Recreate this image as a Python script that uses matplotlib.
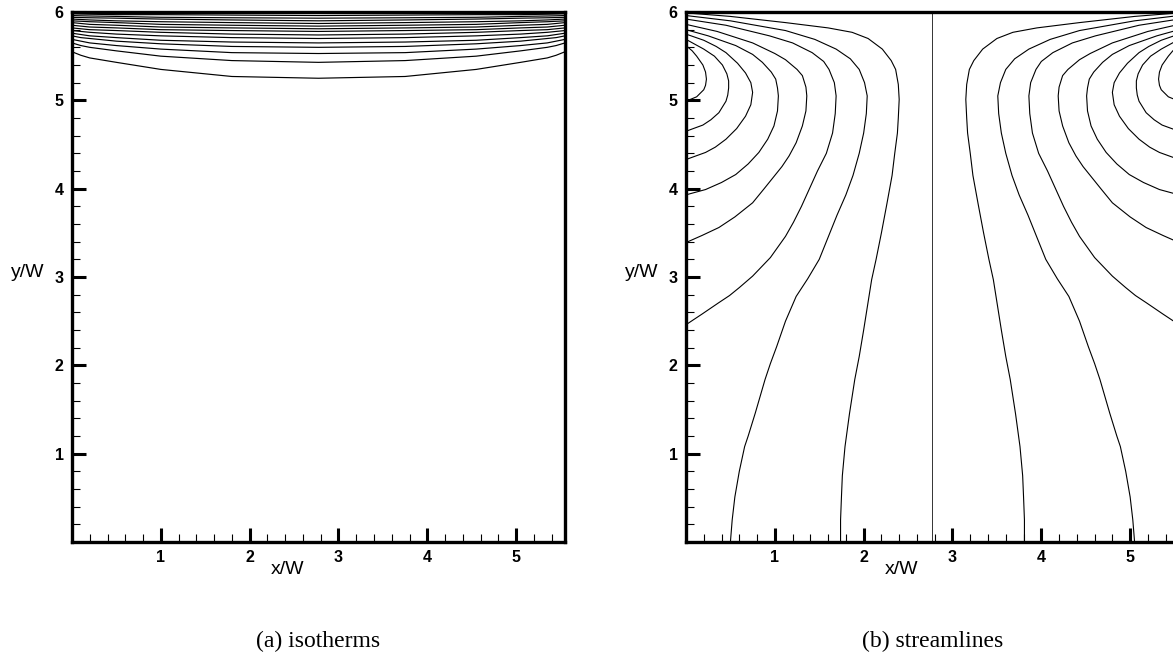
import numpy as np
import matplotlib
matplotlib.use("Agg")
import matplotlib.pyplot as plt
from matplotlib.ticker import MultipleLocator

# cavity size in units of W
XMAX = 5.55
YMAX = 6.0

# isotherms: y/W of each line at these x/W positions (left half, mirrored)
iso_x = [0.0, 0.1, 0.2, 0.5, 1.0, 1.8, 2.775]
iso_levels = [
    [5.55, 5.51, 5.48, 5.43, 5.35, 5.27, 5.25],
    [5.65, 5.62, 5.60, 5.56, 5.50, 5.45, 5.43],
    [5.69, 5.67, 5.65, 5.62, 5.58, 5.54, 5.53],
    [5.73, 5.71, 5.70, 5.67, 5.64, 5.61, 5.60],
    [5.76, 5.745, 5.73, 5.71, 5.68, 5.66, 5.65],
    [5.79, 5.78, 5.77, 5.75, 5.73, 5.71, 5.70],
    [5.82, 5.81, 5.80, 5.79, 5.77, 5.75, 5.74],
    [5.85, 5.84, 5.83, 5.82, 5.80, 5.79, 5.78],
    [5.88, 5.87, 5.86, 5.85, 5.83, 5.82, 5.81],
    [5.90, 5.895, 5.89, 5.88, 5.86, 5.85, 5.84],
    [5.92, 5.915, 5.91, 5.90, 5.89, 5.88, 5.87],
    [5.94, 5.937, 5.935, 5.93, 5.92, 5.91, 5.90],
    [5.96, 5.957, 5.955, 5.95, 5.94, 5.935, 5.93],
    [5.98, 5.977, 5.975, 5.97, 5.97, 5.965, 5.96],
]

# streamlines in the left half of the cavity, (x/W, y/W); right half is the mirror
stream_1 = [(0, 5.62), (0.07, 5.56), (0.12, 5.50), (0.19, 5.40), (0.22, 5.32),
            (0.23, 5.24), (0.22, 5.17), (0.20, 5.12), (0.12, 5.04), (0, 4.99)]
stream_2 = [(0, 5.69), (0.2, 5.58), (0.32, 5.50), (0.41, 5.40), (0.46, 5.30),
            (0.48, 5.22), (0.48, 5.14), (0.47, 5.06), (0.45, 4.99), (0.37, 4.86),
            (0.28, 4.78), (0.19, 4.72), (0, 4.65)]
stream_3 = [(0, 5.75), (0.2, 5.68), (0.34, 5.61), (0.45, 5.54), (0.58, 5.42),
            (0.67, 5.31), (0.73, 5.20), (0.75, 5.09), (0.73, 4.95), (0.67, 4.82),
            (0.57, 4.68), (0.45, 4.56), (0.33, 4.47), (0.22, 4.41), (0, 4.33)]
stream_4 = [(0, 5.80), (0.25, 5.73), (0.56, 5.62), (0.75, 5.52), (0.86, 5.43),
            (0.96, 5.32), (1.01, 5.24), (1.03, 5.14), (1.04, 5.05), (1.03, 4.88),
            (0.99, 4.71), (0.92, 4.56), (0.82, 4.41), (0.70, 4.28), (0.56, 4.16),
            (0.40, 4.07), (0.22, 3.99), (0, 3.93)]
stream_5 = [(0, 5.86), (0.35, 5.78), (0.75, 5.65), (1.0, 5.53), (1.12, 5.46),
            (1.25, 5.35), (1.31, 5.28), (1.35, 5.15), (1.36, 5.05), (1.35, 4.88),
            (1.31, 4.71), (1.24, 4.52), (1.16, 4.37), (1.08, 4.25), (1.0, 4.15),
            (0.88, 4.00), (0.75, 3.84), (0.55, 3.68), (0.37, 3.56), (0.18, 3.47),
            (0, 3.39)]
stream_6 = [(0, 5.92), (0.45, 5.85), (0.94, 5.73), (1.2, 5.65), (1.42, 5.54),
            (1.55, 5.44), (1.61, 5.35), (1.67, 5.20), (1.69, 5.05), (1.68, 4.85),
            (1.65, 4.63), (1.58, 4.40), (1.48, 4.20), (1.39, 4.00), (1.30, 3.80),
            (1.21, 3.62), (1.12, 3.46), (0.95, 3.22), (0.75, 3.01), (0.60, 2.88),
            (0.49, 2.79), (0.37, 2.71), (0.18, 2.58), (0, 2.46)]
stream_7 = [(0, 5.96), (0.5, 5.90), (1.12, 5.79), (1.45, 5.69), (1.69, 5.58),
            (1.85, 5.47), (1.95, 5.35), (2.01, 5.20), (2.04, 5.05), (2.03, 4.85),
            (2.0, 4.63), (1.95, 4.40), (1.88, 4.15), (1.80, 3.93), (1.70, 3.70),
            (1.60, 3.45), (1.50, 3.20), (1.37, 2.98), (1.24, 2.78), (1.12, 2.50),
            (1.02, 2.21), (0.95, 2.02), (0.89, 1.84), (0.78, 1.46), (0.70, 1.20),
            (0.66, 1.08), (0.60, 0.80), (0.55, 0.51), (0.52, 0.25), (0.50, 0.0)]
stream_8 = [(0, 5.99), (0.5, 5.95), (1.12, 5.88), (1.6, 5.82), (1.87, 5.77),
            (2.05, 5.70), (2.21, 5.58), (2.31, 5.45), (2.36, 5.35), (2.39, 5.18),
            (2.40, 5.01), (2.39, 4.80), (2.38, 4.63), (2.35, 4.40), (2.32, 4.15),
            (2.26, 3.82), (2.20, 3.50), (2.14, 3.20), (2.09, 2.97), (2.00, 2.40),
            (1.95, 2.10), (1.90, 1.84), (1.84, 1.45), (1.79, 1.08), (1.76, 0.75),
            (1.75, 0.51), (1.74, 0.25), (1.74, 0.0)]
streams = [stream_1, stream_2, stream_3, stream_4, stream_5, stream_6, stream_7, stream_8]


def style_axes(ax):
    ax.set_xlim(0, XMAX)
    ax.set_ylim(0, YMAX)
    ax.set_xticks([1, 2, 3, 4, 5])
    ax.set_yticks([1, 2, 3, 4, 5, 6])
    ax.xaxis.set_minor_locator(MultipleLocator(0.2))
    ax.yaxis.set_minor_locator(MultipleLocator(0.2))
    ax.tick_params(which='major', direction='in', length=10, width=2.2,
                   labelsize=11.5, pad=6)
    ax.tick_params(which='minor', direction='in', length=6, width=0.8)
    for lbl in ax.get_xticklabels() + ax.get_yticklabels():
        lbl.set_fontweight('bold')
        lbl.set_family('Liberation Sans')
    for sp in ax.spines.values():
        sp.set_linewidth(2.4)
    ax.text(2.43 / XMAX, -0.052, 'x/W', transform=ax.transAxes, ha='center',
            va='center', fontsize=14, family='Liberation Sans')
    ax.text(-0.09, 0.509, 'y/W', transform=ax.transAxes, ha='center',
            va='center', fontsize=14, family='Liberation Sans')


def main():
    fig = plt.figure(figsize=(11.73, 6.68), dpi=100)
    w = 493 / 1173
    h = 530 / 668
    b = (668 - 542) / 668
    ax1 = fig.add_axes([72 / 1173, b, w, h])
    ax2 = fig.add_axes([686 / 1173, b, w, h])

    # (a) isotherms
    full_x = iso_x + [XMAX - x for x in iso_x[-2::-1]]
    for ys in iso_levels:
        full_y = ys + ys[-2::-1]
        ax1.plot(full_x, full_y, color='black', lw=0.85)
    style_axes(ax1)

    # (b) streamlines
    for s in streams:
        xs = [p[0] for p in s]
        ys = [p[1] for p in s]
        ax2.plot(xs, ys, color='black', lw=0.8)
        ax2.plot([XMAX - x for x in xs], ys, color='black', lw=0.8)
    ax2.plot([XMAX / 2, XMAX / 2], [0, YMAX], color='#333333', lw=0.7)
    style_axes(ax2)

    fig.text(318.5 / 1173, (668 - 641) / 668, '(a) isotherms', ha='center',
             va='center', fontsize=17, family='Liberation Serif')
    fig.text(932.5 / 1173, (668 - 641) / 668, '(b) streamlines', ha='center',
             va='center', fontsize=17, family='Liberation Serif')

    fig.savefig('out.png', dpi=100)


if __name__ == "__main__":
    main()
